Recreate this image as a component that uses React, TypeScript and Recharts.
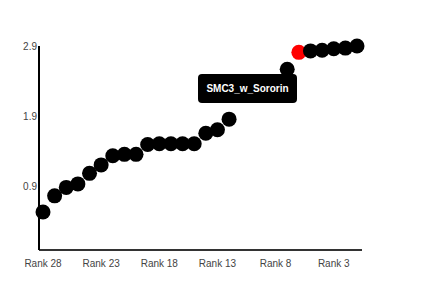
import { CartesianGrid, Line, LineChart, Tooltip, XAxis, YAxis } from "recharts";

// ranks shown left to right, lowest score first
const RANKS = [
  28, 27, 26, 25, 24, 23, 22, 21, 20, 19, 18, 17, 16, 15, 14, 13, 12, 11, 10, 9, 8, 7, 6, 5, 4, 3, 2, 1,
];
const SCORES = [
  0.54, 0.77, 0.89, 0.94, 1.09, 1.21, 1.34, 1.36, 1.36, 1.5, 1.51, 1.51, 1.51, 1.51, 1.66, 1.71, 1.86,
  2.2, 2.25, 2.3, 2.39, 2.57, 2.81, 2.83, 2.84, 2.86, 2.87, 2.9,
];
const Y_TICKS = [0.9, 1.9, 2.9];
const HIGHLIGHT_RANK = 6;
const TOOLTIP_LABEL = "SMC3_w_Sororin";

const data = RANKS.map((r, i) => ({ rank: `Rank ${r}`, n: r, score: SCORES[i] }));

const TICK = { fontSize: 10, fill: "#444", fontFamily: "Liberation Sans, Arial, sans-serif" };

function Dot(props: any) {
  const { cx, cy, payload, index } = props;
  if (cx == null || cy == null) return null;
  return (
    <circle
      key={`dot-${index}`}
      cx={cx}
      cy={cy}
      r={7.5}
      fill={payload.n === HIGHLIGHT_RANK ? "#ff0000" : "#000"}
    />
  );
}

function TipBox() {
  return (
    <div
      style={{
        background: "#000",
        color: "#fff",
        borderRadius: 4,
        width: 99,
        height: 29,
        display: "flex",
        alignItems: "center",
        justifyContent: "center",
        fontFamily: "Liberation Sans, Arial, sans-serif",
        fontWeight: "bold",
        fontSize: 10,
      }}
    >
      {TOOLTIP_LABEL}
    </div>
  );
}

export default function App() {
  return (
    <div style={{ position: "absolute", left: 0, top: 0, width: 422, height: 281, background: "#fff" }}>
      <LineChart width={422} height={281} data={data} margin={{ top: 46, right: 60, left: 0, bottom: 0 }}>
        <CartesianGrid stroke="none" />
        <XAxis
          dataKey="rank"
          interval={4}
          tick={TICK}
          tickLine={false}
          tickSize={0}
          tickMargin={10}
          height={31}
          padding={{ left: 4, right: 5 }}
          axisLine={{ stroke: "#333", strokeWidth: 2 }}
        />
        <YAxis
          domain={[0, 2.9]}
          ticks={Y_TICKS}
          tick={TICK}
          tickLine={false}
          tickSize={0}
          tickMargin={2}
          width={39}
          axisLine={{ stroke: "#000", strokeWidth: 2 }}
        />
        <Tooltip
          defaultIndex={22}
          cursor={false}
          position={{ x: 198, y: 74 }}
          wrapperStyle={{ outline: "none" }}
          content={() => <TipBox />}
        />
        <Line
          dataKey="score"
          stroke="none"
          dot={<Dot />}
          activeDot={false}
          isAnimationActive={false}
        />
      </LineChart>
    </div>
  );
}
